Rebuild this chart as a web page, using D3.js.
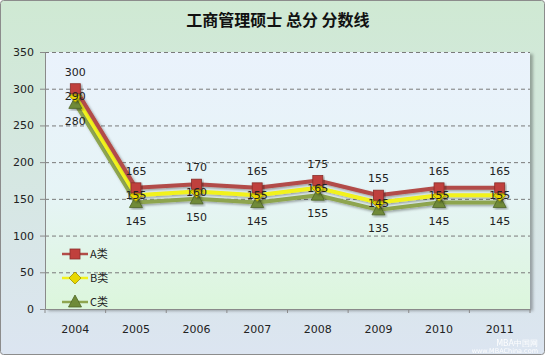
<!DOCTYPE html>
<html><head><meta charset="utf-8">
<script src="https://cdn.jsdelivr.net/npm/d3@7"></script>
<style>body{margin:0;background:#fff}svg{display:block}</style>
</head><body>
<svg id="c" width="545" height="355"></svg>
<script>
const years = ["2004","2005","2006","2007","2008","2009","2010","2011"];
const seriesA = [300,165,170,165,175,155,165,165];
const seriesB = [290,155,160,155,165,145,155,155];
const seriesC = [280,145,150,145,155,135,145,145];
const seriesNames = ["A类","B类","C类"];
const yTicks = [0,50,100,150,200,250,300,350];
const title = "工商管理硕士 总分 分数线";

const svg = d3.select("#c");
const W = 545, H = 355;
const m = {l:45, r:530, t:52, b:309};
const defs = svg.append("defs");
const g1 = defs.append("linearGradient").attr("id","bg").attr("x1",0).attr("y1",0).attr("x2",0).attr("y2",1);
g1.append("stop").attr("offset","0%").attr("stop-color","#cfe9d3");
g1.append("stop").attr("offset","100%").attr("stop-color","#dce5f1");
const g2 = defs.append("linearGradient").attr("id","pa").attr("x1",0).attr("y1",0).attr("x2",0).attr("y2",1);
g2.append("stop").attr("offset","0%").attr("stop-color","#eaf2fc");
g2.append("stop").attr("offset","55%").attr("stop-color","#e6f4f6");
g2.append("stop").attr("offset","100%").attr("stop-color","#dcf6dc");
const sh = defs.append("filter").attr("id","sh").attr("x","-20%").attr("y","-20%").attr("width","140%").attr("height","140%");
sh.append("feDropShadow").attr("dx",1.5).attr("dy",1.5).attr("stdDeviation",1).attr("flood-color","#000").attr("flood-opacity",0.35);
const sh2 = defs.append("filter").attr("id","sh2").attr("x","-5%").attr("y","-5%").attr("width","110%").attr("height","110%");
sh2.append("feDropShadow").attr("dx",3).attr("dy",2).attr("stdDeviation",1.5).attr("flood-color","#000").attr("flood-opacity",0.3);

svg.append("rect").attr("x",0.5).attr("y",0.5).attr("width",W-1).attr("height",H-1).attr("rx",3)
  .attr("fill","url(#bg)").attr("stroke","#8c8c8c");

const x = d3.scaleBand().domain(years).range([m.l, m.r]);
const y = d3.scaleLinear().domain([0,350]).range([m.b, m.t]);

svg.append("rect").attr("x",m.l).attr("y",m.t).attr("width",m.r-m.l).attr("height",m.b-m.t)
  .attr("fill","url(#pa)").attr("filter","url(#sh2)");

svg.append("g").selectAll("line").data(yTicks.filter(d=>d>0)).join("line")
  .attr("x1",m.l).attr("x2",m.r).attr("y1",d=>y(d)+0.5).attr("y2",d=>y(d)+0.5)
  .attr("stroke","#7a7a7a").attr("stroke-dasharray","4,3").attr("stroke-width",1);

const ya = svg.append("g").attr("transform",`translate(${m.l},0)`)
  .call(d3.axisLeft(y).tickValues(yTicks).tickSize(5).tickPadding(6));
const xa = svg.append("g").attr("transform",`translate(0,${m.b})`)
  .call(d3.axisBottom(x).tickSize(0).tickPadding(16));
[ya,xa].forEach(a=>{
  a.select(".domain").attr("stroke","#8a8a8a");
  a.selectAll("line").attr("stroke","#8a8a8a");
  a.selectAll("text").attr("font-family","DejaVu Sans, Verdana, sans-serif").attr("font-size",11).attr("fill","#222");
});
xa.selectAll(".tk").data(years.concat(["end"])).join("line")
  .attr("x1",(d,i)=>m.l + i*x.step()).attr("x2",(d,i)=>m.l + i*x.step())
  .attr("y1",0).attr("y2",4).attr("stroke","#8a8a8a");

const series = [
  {name:seriesNames[0], vals:seriesA, line:"#b24c48", fill:"#c0403c", marker:"square", lab:-13},
  {name:seriesNames[1], vals:seriesB, line:"#f2f21a", fill:"#e8d800", marker:"diamond", lab:4},
  {name:seriesNames[2], vals:seriesC, line:"#8ea550", fill:"#6f8a38", marker:"triangle", lab:22}
];
const cx = d => x(d) + x.bandwidth()/2;
const line = d3.line().x((d,i)=>cx(years[i])).y(d=>y(d));

function marker(sel, type, fill){
  if(type==="square") sel.append("rect").attr("x",-5).attr("y",-5).attr("width",10).attr("height",10)
     .attr("fill",fill).attr("stroke","#8a2f2c").attr("stroke-width",0.8);
  else if(type==="diamond") sel.append("path").attr("d","M0,-6L6,0L0,6L-6,0Z").attr("fill",fill).attr("stroke","#a09000").attr("stroke-width",0.8);
  else sel.append("path").attr("d","M0,-7L6.5,5L-6.5,5Z").attr("fill",fill).attr("stroke","#4e6526").attr("stroke-width",0.8);
}

series.slice().reverse().forEach(s=>{
  svg.append("path").datum(s.vals).attr("d",line).attr("fill","none")
    .attr("stroke",s.line).attr("stroke-width",4).attr("filter","url(#sh)").attr("stroke-linejoin","round");
});
series.slice().reverse().forEach(s=>{
  s.vals.forEach((v,i)=>{
    const gg = svg.append("g").attr("transform",`translate(${cx(years[i])},${y(v)})`).attr("filter","url(#sh)");
    marker(gg, s.marker, s.fill);
  });
});
series.forEach(s=>{
  svg.append("g").selectAll("text").data(s.vals).join("text")
    .attr("x",(d,i)=>cx(years[i])).attr("y",d=>y(d)+s.lab)
    .attr("text-anchor","middle").attr("font-family","DejaVu Sans, Verdana, sans-serif")
    .attr("font-size",11).attr("fill","#222").text(d=>d);
});

series.forEach((s,i)=>{
  const ly = 254 + i*24;
  svg.append("line").attr("x1",62).attr("x2",88).attr("y1",ly).attr("y2",ly).attr("stroke",s.line).attr("stroke-width",2.5);
  const gg = svg.append("g").attr("transform",`translate(75,${ly})`);
  marker(gg, s.marker, s.fill);
  svg.append("text").attr("x",90).attr("y",ly+4).attr("font-family","Noto Sans CJK SC, sans-serif")
    .attr("font-size",11).attr("fill","#222").text(s.name);
});

svg.append("text").attr("x",278).attr("y",26).attr("text-anchor","middle")
  .attr("font-family","Noto Sans CJK SC, sans-serif").attr("font-weight","bold").attr("font-size",16)
  .attr("fill","#111").text(title);

// watermark text (bottom right)
svg.append("text").attr("x",538).attr("y",346).attr("text-anchor","end")
  .attr("font-family","DejaVu Sans, sans-serif").attr("font-size",8)
  .attr("fill","#fff").attr("opacity",0.95).text("MBA中国网");
svg.append("text").attr("x",538).attr("y",353).attr("text-anchor","end")
  .attr("font-family","DejaVu Sans, sans-serif").attr("font-size",6.5)
  .attr("fill","#fff").attr("opacity",0.95).text("www.MBAChina.com");
</script>
</body></html>
